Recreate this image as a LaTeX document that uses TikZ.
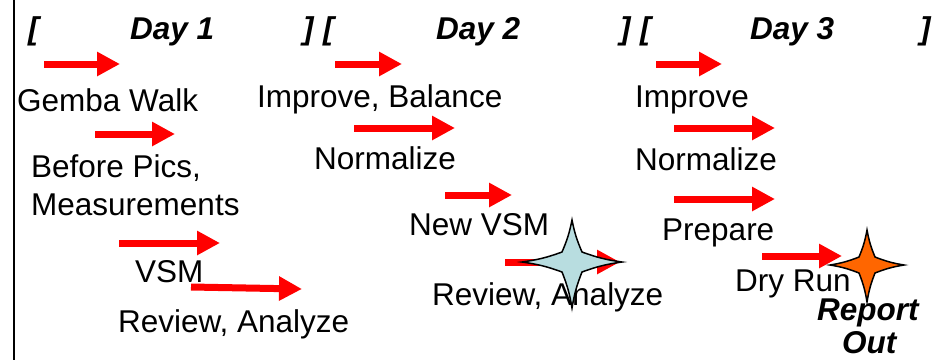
\documentclass[tikz,border=0pt]{standalone}
\usepackage{fontspec}
\setmainfont{Liberation Sans}
\usetikzlibrary{arrows.meta}
\definecolor{starblue}{HTML}{B8DDE0}
\definecolor{starorange}{HTML}{FF6600}
\begin{document}
\begin{tikzpicture}[x=1pt,y=-1pt,
  lbl/.style={anchor=base west, inner sep=0pt, font=\fontsize{31.5}{35}\selectfont},
  hdr/.style={anchor=base west, inner sep=0pt, font=\fontsize{31.5}{35}\selectfont\bfseries\itshape},
  blockarrow/.style={draw=red, line width=7pt, -{Triangle[length=23pt,width=23pt]}},
  starline/.style={draw=black, line width=1.5pt, line join=miter},
  % four-pointed star: fill, top reach, half width, bottom reach, inner corner offset
  pics/fourstar/.style n args={5}{code={
    \draw[starline, fill=#1] (0,-#2) to[bend right=6] (#5,-#5) to[bend right=6] (#3,0)
      to[bend right=6] (#5,#5) to[bend right=6] (0,#4)
      to[bend right=6] (-#5,#5) to[bend right=6] (-#3,0)
      to[bend right=6] (-#5,-#5) to[bend right=6] cycle;}}]
\useasboundingbox (0,0) rectangle (933,360);

% left border line
\coordinate (bt) at (14,0);
\coordinate (bb) at (14,360);
\draw[line width=1.5pt] (bt) -- (bb);

% day headers
\node[hdr] (b1o) at (28,39) {[};
\node[hdr] (d1) at (130,39) {Day 1};
\node[hdr] (b1c) at (303,39) {]};
\node[hdr] (b2o) at (323,39) {[};
\node[hdr] (d2) at (436,39) {Day 2};
\node[hdr] (b2c) at (620,39) {]};
\node[hdr] (b3o) at (640,39) {[};
\node[hdr] (d3) at (750,39) {Day 3};
\node[hdr] (b3c) at (920,39) {]};

% arrows
\coordinate (a1s) at (44,64);   \coordinate (a1e) at (120,64);
\coordinate (a2s) at (95,134);  \coordinate (a2e) at (175,134);
\coordinate (a3s) at (119,243); \coordinate (a3e) at (220,243);
\coordinate (a4s) at (191,287); \coordinate (a4e) at (302,289);
\coordinate (a5s) at (335,64);  \coordinate (a5e) at (402,64);
\coordinate (a6s) at (354,128); \coordinate (a6e) at (455,128);
\coordinate (a7s) at (445,195); \coordinate (a7e) at (512,195);
\coordinate (a8s) at (505,262); \coordinate (a8e) at (620,262);
\coordinate (a9s) at (656,64);  \coordinate (a9e) at (722,64);
\coordinate (a10s) at (674,128); \coordinate (a10e) at (775,128);
\coordinate (a11s) at (674,199); \coordinate (a11e) at (775,199);
\coordinate (a12s) at (762,256); \coordinate (a12e) at (842,256);
\foreach \i in {1,...,12} {\draw[blockarrow] (a\i s) -- (a\i e);}

% day 1 steps
\node[lbl] (gw) at (17,111) {Gemba Walk};
\node[lbl] (bp) at (31,177) {Before Pics,};
\node[lbl] (ms) at (31,215) {Measurements};
\node[lbl] (vsm) at (135,282) {VSM};
\node[lbl] (ra1) at (118,332) {Review, Analyze};

% day 2 steps
\node[lbl] (ib) at (257,107) {Improve, Balance};
\node[lbl] (n2) at (314,169) {Normalize};
\node[lbl] (nv) at (409,235) {New VSM};
\node[lbl] (ra2) at (432,305) {Review, Analyze};

% day 3 steps
\node[lbl] (im3) at (635,107) {Improve};
\node[lbl] (n3) at (635,170) {Normalize};
\node[lbl] (pr) at (662,240) {Prepare};
\node[lbl] (dr) at (735,291) {Dry Run};
\node[hdr] (rp) at (817,320) {Report};
\node[hdr] (ro) at (842,353) {Out};

% milestone stars
\pic at (572,262) {fourstar={starblue}{42}{50}{46}{10}};
\pic at (867,265) {fourstar={starorange}{35}{37}{37}{8}};
\end{tikzpicture}
\end{document}
